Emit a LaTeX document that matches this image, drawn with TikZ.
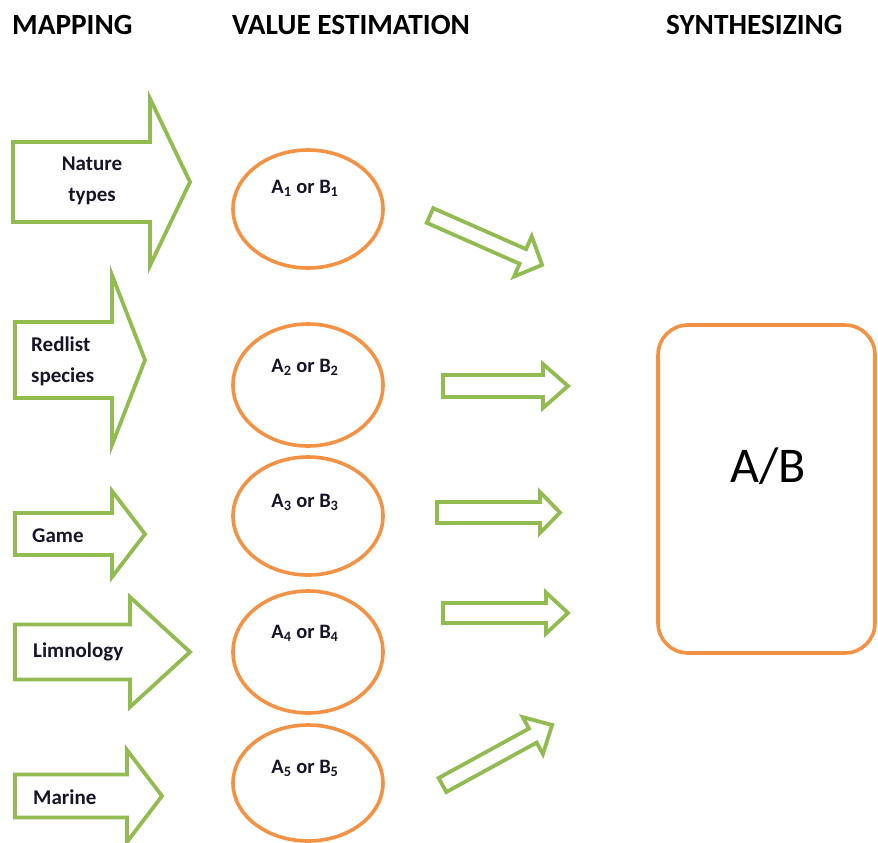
\documentclass[tikz,border=0pt]{standalone}
\usepackage{fontspec}
\setmainfont{Carlito}
\usetikzlibrary{shapes.geometric}

\definecolor{arrowgreen}{RGB}{146,187,82}
\definecolor{ovalorange}{RGB}{243,146,68}
\definecolor{labelink}{RGB}{22,22,40}

% block arrow: name, tail point, angle, length, shaft half width, head half width, head length
\newcommand\blockarrow[7]{%
  \begin{scope}[shift={(#2)}, rotate=#3]
    \coordinate (#1-tail) at (0,0);
    \coordinate (#1-tip) at (#4,0);
    \draw[arrowline] (#1-tail) ++(0,#5) -- ({#4-#7},#5) -- ({#4-#7},#6)
      -- (#1-tip) -- ({#4-#7},-#6) -- ({#4-#7},-#5) -- (0,-#5) -- cycle;
  \end{scope}}

\begin{document}
\begin{tikzpicture}[x=1pt, y=-1pt,
  arrowline/.style={draw=arrowgreen, line width=3.8pt, line join=miter},
  heading/.style={anchor=base west, inner sep=0pt, font=\fontsize{29.3}{34}\selectfont\bfseries},
  maplabel/.style={inner sep=0pt, text=labelink, font=\fontsize{21}{31}\selectfont\bfseries},
  oval/.style={ellipse, draw=ovalorange, line width=3.6pt, minimum width=150pt},
  ovallabel/.style={inner sep=0pt, text=labelink, font=\fontsize{20.5}{24}\selectfont\bfseries}]

\useasboundingbox (0,0) rectangle (878,843);

% column headings
\node[heading] (hmap) at (12,35) {MAPPING};
\node[heading] (hval) at (232,35) {VALUE ESTIMATION};
\node[heading] (hsyn) at (666,35) {SYNTHESIZING};

% mapping arrows
\blockarrow{m1}{13,182}{0}{177}{40}{83.5}{40}
\blockarrow{m2}{15,360}{0}{130}{38}{85}{33}
\blockarrow{m3}{15,534}{0}{130}{21}{43}{33}
\blockarrow{m4}{15,652}{0}{175}{27.5}{55}{60}
\blockarrow{m5}{15,796}{0}{147}{21.5}{46}{35}

\node[maplabel, align=center] (l1) at (92,181) {Nature\\types};
\node[maplabel, align=left, anchor=west] (l2) at (31,361) {Redlist\\species};
\node[maplabel, anchor=west] (l3) at (32,536) {Game};
\node[maplabel, anchor=west] (l4) at (33,652) {Limnology};
\node[maplabel, anchor=west] (l5) at (33,797) {Marine};

% value estimation ovals
\node[oval, minimum height=118pt] (e1) at (308,209) {};
\node[oval, minimum height=122pt] (e2) at (308,385) {};
\node[oval, minimum height=118pt] (e3) at (308,516) {};
\node[oval, minimum height=122pt] (e4) at (308,652) {};
\node[oval, minimum height=116pt] (e5) at (308,783) {};

\node[ovallabel] (v1) at (305,188) {A\textsubscript{1} or B\textsubscript{1}};
\node[ovallabel] (v2) at (305,367) {A\textsubscript{2} or B\textsubscript{2}};
\node[ovallabel] (v3) at (305,502) {A\textsubscript{3} or B\textsubscript{3}};
\node[ovallabel] (v4) at (305,633) {A\textsubscript{4} or B\textsubscript{4}};
\node[ovallabel] (v5) at (305,768) {A\textsubscript{5} or B\textsubscript{5}};

% arrows towards the synthesis
\blockarrow{s1}{430,215.5}{-23.8}{122.5}{8}{22}{21}
\blockarrow{s2}{443,386}{0}{125}{11}{22}{25}
\blockarrow{s3}{437,512.5}{0}{123}{10.5}{20.5}{20}
\blockarrow{s4}{443,613}{0}{125}{10}{20.5}{22}
\blockarrow{s5}{442.5,785}{28.7}{125}{8}{21}{22}

% synthesis box
\node[draw=ovalorange, line width=3.6pt, rounded corners=30pt,
      minimum width=217pt, minimum height=328pt] (ab) at (766.5,489) {};
\node[inner sep=0pt, font=\fontsize{50}{60}\selectfont] (abt) at (768,466) {A/B};

\end{tikzpicture}
\end{document}
